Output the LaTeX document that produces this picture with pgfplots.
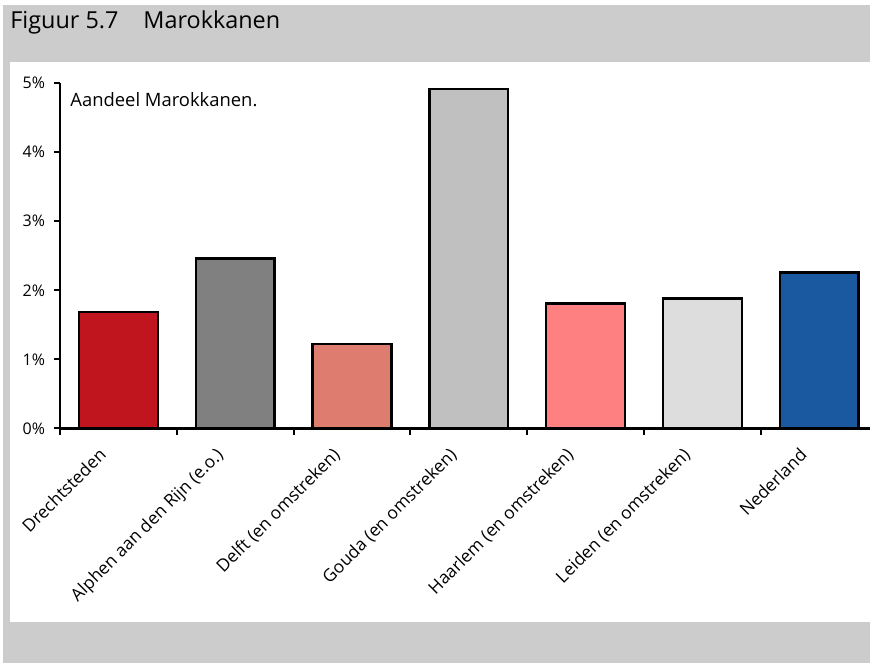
\documentclass[border=0pt]{standalone}
\usepackage{pgfplots}
\pgfplotsset{compat=1.18}
\usepackage{fontspec}
\setmainfont{Open Sans}
\definecolor{bg}{HTML}{CCCCCC}
\definecolor{cA}{HTML}{C0141E}
\definecolor{cB}{HTML}{808080}
\definecolor{cC}{HTML}{DE7C70}
\definecolor{cD}{HTML}{C0C0C0}
\definecolor{cE}{HTML}{FF8080}
\definecolor{cF}{HTML}{DDDDDD}
\definecolor{cG}{HTML}{1A589F}
\begin{document}
\begin{tikzpicture}
\useasboundingbox (0,0) rectangle (435pt,331.5pt);
\fill[white] (0,0) rectangle (435pt,331.5pt);
\fill[bg] (1.5pt,0) rectangle (435pt,329pt);
\fill[white] (5pt,20.5pt) rectangle (435pt,300.5pt);
\node[anchor=base west, inner sep=0pt, font=\fontsize{11.7pt}{14pt}\selectfont] at (5pt,317pt) {Figuur 5.7};
\node[anchor=base west, inner sep=0pt, font=\fontsize{11.7pt}{14pt}\selectfont] at (71.5pt,317pt) {Marokkanen};
\node[anchor=base west, inner sep=0pt, font=\fontsize{9.2pt}{11pt}\selectfont] at (35pt,278pt) {Aandeel Marokkanen.};
\begin{axis}[
  at={(30pt,117.25pt)}, anchor=south west,
  scale only axis, width=405pt, height=172.75pt,
  xmin=-0.5, xmax=6.435, ymin=0, ymax=5,
  axis x line=bottom, axis y line=left,
  axis line style={-, line width=1.3pt, black},
  clip=false,
  ybar, bar width=0.676,
  ytick={0,1,2,3,4,5},
  /pgf/number format/assume math mode=true,
  yticklabel={\pgfmathprintnumber{\tick}\%},
  tick align=outside,
  major tick length=3pt,
  tick style={line width=1pt, black},
  xtick={-0.5,0.5,...,5.5},
  xticklabels={},
  extra x ticks={0,1,2,3,4,5,6},
  extra x tick labels={Drechtsteden,Alphen aan den Rijn (e.o.),Delft (en omstreken),Gouda (en omstreken),Haarlem (en omstreken),Leiden (en omstreken),Nederland},
  extra x tick style={major tick length=0pt, tick style={draw=none},
    xticklabel style={font=\fontsize{8.7pt}{10pt}\selectfont}},
  xticklabel style={rotate=45, anchor=north east, inner sep=1pt, xshift=-12.6pt, yshift=2pt},
  ticklabel style={font=\fontsize{8pt}{9pt}\selectfont},
  yticklabel style={xshift=-1pt},
  every axis plot/.append style={draw=black, line width=1.2pt, bar shift=0pt},
]
\addplot[fill=cA, bar shift=0pt] coordinates {(0,1.69)};
\addplot[fill=cB, bar shift=0pt] coordinates {(1,2.46)};
\addplot[fill=cC, bar shift=0pt] coordinates {(2,1.22)};
\addplot[fill=cD, bar shift=0pt] coordinates {(3,4.91)};
\addplot[fill=cE, bar shift=0pt] coordinates {(4,1.81)};
\addplot[fill=cF, bar shift=0pt] coordinates {(5,1.88)};
\addplot[fill=cG, bar shift=0pt] coordinates {(6,2.26)};
\end{axis}
\end{tikzpicture}
\end{document}
